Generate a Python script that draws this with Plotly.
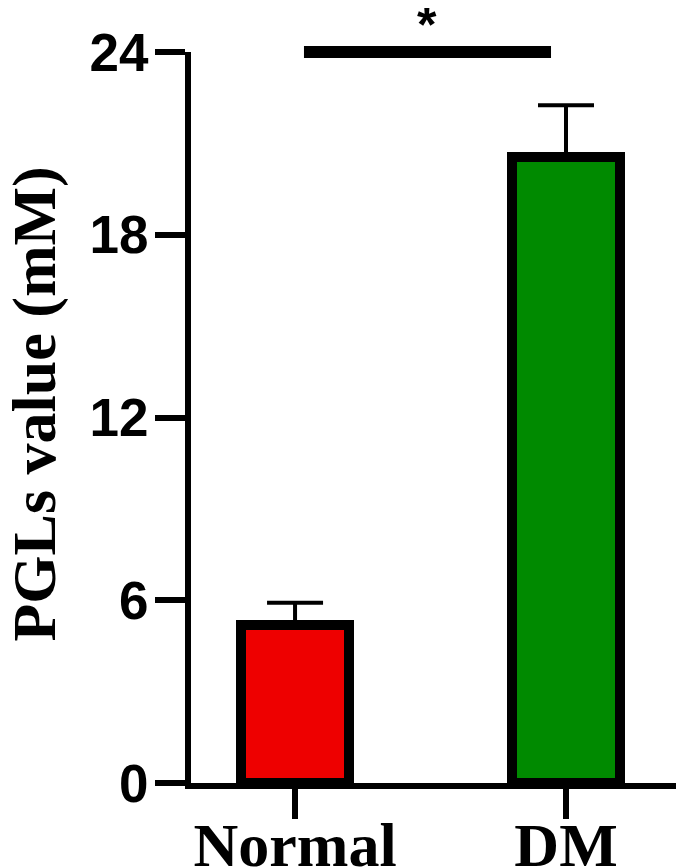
import plotly.graph_objects as go

# data
groups = ["Normal", "DM"]
means = [5.2, 20.55]
sems = [0.72, 1.7]
bar_colors = ["#ee0000", "#008a00"]

y_ticks = [0, 6, 12, 18, 24]
y_title = "PGLs value (mM)"

sig_label = "*"

serif = "Liberation Serif"
sans = "Liberation Sans"

fig = go.Figure()

fig.add_trace(go.Bar(
    x=groups,
    y=means,
    width=0.4,
    marker=dict(color=bar_colors, line=dict(color="black", width=10)),
    error_y=dict(
        type="data",
        symmetric=False,
        array=sems,
        arrayminus=[0] * len(sems),
        color="black",
        thickness=4,
        width=28,
    ),
    showlegend=False,
))

# significance bracket on top edge (paper refs so it is not clipped)
fig.add_shape(
    type="line", xref="paper", yref="paper",
    x0=0.2255, x1=0.7186, y0=1, y1=1,
    line=dict(color="black", width=12),
)
fig.add_annotation(
    x=0.471, y=1, xref="paper", yref="paper",
    text=sig_label, showarrow=False, yshift=27,
    xanchor="center", yanchor="middle",
    font=dict(family=sans, size=50, color="black", weight="bold"),
)

# y title as rotated annotation so it can sit at the far left
fig.add_annotation(
    x=-0.313, y=0.518, xref="paper", yref="paper",
    text=y_title, textangle=-90, showarrow=False,
    xanchor="center", yanchor="middle",
    font=dict(family=serif, size=62, color="black", weight="bold"),
)

# page body adds an 8px offset, margins are compensated for that
fig.update_layout(
    width=684,
    height=868,
    margin=dict(l=183, r=0, t=44, b=93),
    plot_bgcolor="white",
    paper_bgcolor="white",
    bargap=0,
)

fig.update_xaxes(
    type="category",
    range=[-0.384, 1.465],
    automargin=False,
    showline=True, linecolor="black", linewidth=6,
    ticks="outside", ticklen=30, tickwidth=6, tickcolor="black",
    ticklabelstandoff=-27,
    tickfont=dict(family=serif, size=62, color="black", weight="bold"),
    showgrid=False, zeroline=False,
)

fig.update_yaxes(
    range=[0, 24],
    tickvals=y_ticks,
    automargin=False,
    showline=True, linecolor="black", linewidth=6,
    ticks="outside", ticklen=30, tickwidth=6, tickcolor="black",
    ticklabelstandoff=-4,
    tickfont=dict(family=sans, size=53, color="black", weight="bold"),
    showgrid=False, zeroline=False,
)

fig.write_html("out.html")
